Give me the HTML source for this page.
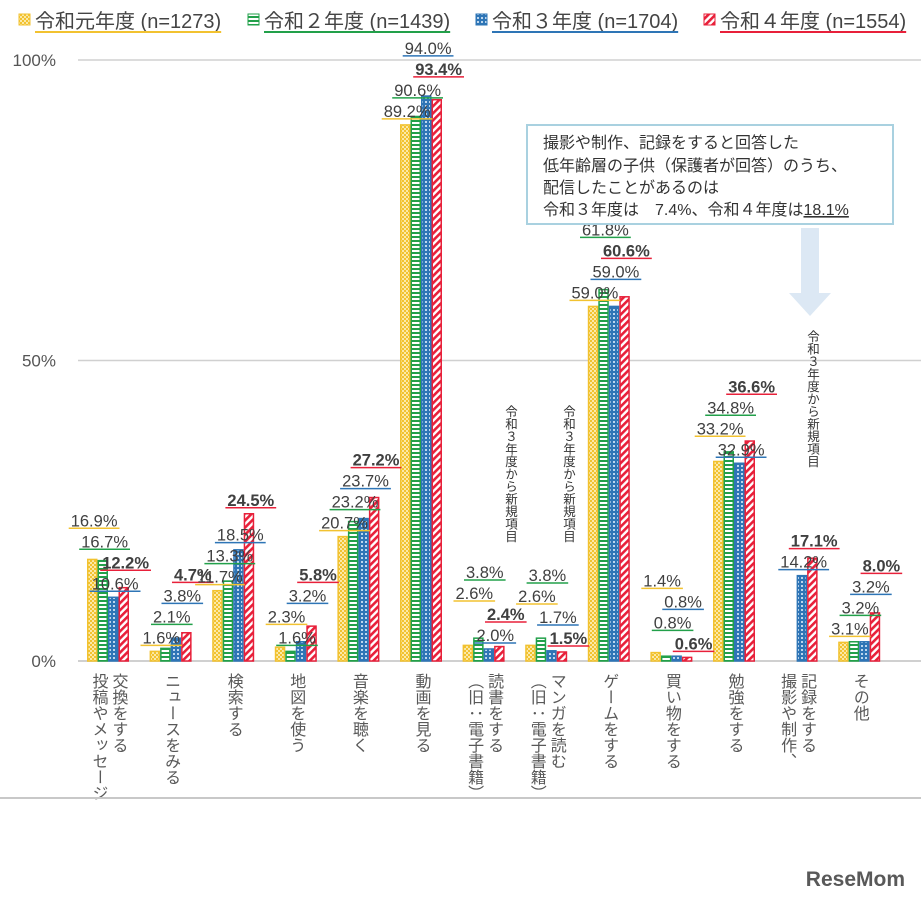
<!DOCTYPE html>
<html><head><meta charset="utf-8"><style>
body{margin:0;background:#fff;width:921px;height:900px;overflow:hidden;font-family:"Liberation Sans","Noto Sans CJK JP",sans-serif;}
svg{display:block}
</style></head><body>
<svg id="chart" width="921" height="900" xmlns="http://www.w3.org/2000/svg" font-family="Liberation Sans, Noto Sans CJK JP, sans-serif">
<defs>
<pattern id="pY" width="4" height="4" patternUnits="userSpaceOnUse"><rect width="4" height="4" fill="#f2c230"/><rect x="0" y="0" width="2" height="2" fill="#fbe9a8"/><rect x="2" y="2" width="2" height="2" fill="#fbe9a8"/></pattern>
<pattern id="pG" width="4" height="4" patternUnits="userSpaceOnUse"><rect width="4" height="4" fill="#fff"/><rect y="0" width="4" height="2" fill="#22a04a"/></pattern>
<pattern id="pB" width="4" height="4" patternUnits="userSpaceOnUse"><rect width="4" height="4" fill="#2e75b6"/><rect x="1" y="1" width="2" height="2" fill="#bcd6ee"/></pattern>
<pattern id="pR" width="5" height="5" patternUnits="userSpaceOnUse" patternTransform="rotate(45)"><rect width="5" height="5" fill="#fff"/><rect width="2.6" height="5" fill="#e8203a"/></pattern>
</defs>
<g id="legend"></g>
<g id="grid"></g>
<g id="bars"></g>
<g id="labels"></g>
<g id="xlabels"></g>
<g>
<rect x="527" y="125" width="366" height="99" fill="#fff" stroke="#a9d1e0" stroke-width="2"/>
<text x="543" y="148" font-size="16" fill="#333">撮影や制作、記録をすると回答した</text>
<text x="543" y="171" font-size="16" fill="#333">低年齢層の子供（保護者が回答）のうち、</text>
<text x="543" y="193" font-size="16" fill="#333">配信したことがあるのは</text>
<text x="543" y="215" font-size="16" fill="#333">令和３年度は　7.4%、令和４年度は<tspan text-decoration="underline">18.1%</tspan></text>
</g>
<path d="M801 228 H819 V293 H831 L810 316 L789 293 H801 Z" fill="#dce8f4"/>
<line x1="0" y1="798" x2="921" y2="798" stroke="#c8c8c8" stroke-width="2"/>
<text x="905" y="886" text-anchor="end" font-size="21" font-weight="bold" fill="#595959">ReseMom</text>
</svg>
<script>
const categories=["投稿やメッセージ交換をする","ニュースをみる","検索する","地図を使う","音楽を聴く","動画を見る","読書をする","マンガを読む","ゲームをする","買い物をする","勉強をする","撮影や制作、記録をする","その他"];
const r1=[16.9,1.6,11.7,2.3,20.7,89.2,2.6,2.6,59.0,1.4,33.2,null,3.1];
const r2=[16.7,2.1,13.3,1.6,23.2,90.6,3.8,3.8,61.8,0.8,34.8,null,3.2];
const r3=[10.6,3.8,18.5,3.2,23.7,94.0,2.0,1.7,59.0,0.8,32.9,14.2,3.2];
const r4=[12.2,4.7,24.5,5.8,27.2,93.4,2.4,1.5,60.6,0.6,36.6,17.1,8.0];
const seriesNames=["令和元年度 (n=1273)","令和２年度 (n=1439)","令和３年度 (n=1704)","令和４年度 (n=1554)"];
const yTicks=[0,50,100];
const xCols=[["投稿やメッセージ","交換をする"],["ニュースをみる"],["検索する"],["地図を使う"],["音楽を聴く"],["動画を見る"],["（旧：電子書籍）","読書をする"],["（旧：電子書籍）","マンガを読む"],["ゲームをする"],["買い物をする"],["勉強をする"],["撮影や制作、","記録をする"],["その他"]];

const NS="http://www.w3.org/2000/svg";
const series=[r1,r2,r3,r4];
const fills=["url(#pY)","url(#pG)","url(#pB)","url(#pR)"];
const strokes=["#f2c230","#22a04a","#2e75b6","#e8203a"];
const y=v=>661-v*6.01;
const gx=i=>108+i*62.6;
const BW=10.5;
const bx=(i,s)=>gx(i)-21+s*BW;
function mk(tag,attrs,parent){const e=document.createElementNS(NS,tag);for(const k in attrs)e.setAttribute(k,attrs[k]);parent.appendChild(e);return e;}

const lg=document.getElementById('legend');
const lx=[19,248,476,704];
seriesNames.forEach((n,s)=>{
  const sq=mk('rect',{x:lx[s],y:14,width:11,height:11,fill:fills[s],stroke:strokes[s]},lg);
  
  
  const t=mk('text',{x:lx[s]+16,y:28,'font-size':20,fill:'#444'},lg);
  t.textContent=n;
  
  
  const w=t.getComputedTextLength();
  mk('line',{x1:lx[s]+16,x2:lx[s]+16+w,y1:32,y2:32,stroke:strokes[s],'stroke-width':2},lg);
});

const gd=document.getElementById('grid');
yTicks.forEach(v=>{
  const l=mk('line',{x1:78,x2:921,y1:y(v),y2:y(v),stroke:'#d0d0d0','stroke-width':v===0?2:1.5},gd);
  
  
  const t=mk('text',{x:56,y:y(v)+6,'text-anchor':'end','font-size':17,fill:'#555'},gd);
  t.textContent=v+'%';
  
  
});

const bg=document.getElementById('bars'), lb=document.getElementById('labels');
categories.forEach((c,i)=>{
  const order=[];
  series.forEach((arr,s)=>{
    const v=arr[i]; if(v==null)return;
    const r=mk('rect',{x:bx(i,s)+0.75,y:y(v),width:BW-1.5,height:661-y(v),fill:fills[s],stroke:strokes[s],'stroke-width':1.5},bg);
    
    
    order.push({s,v});
  });
  order.sort((a,b)=>a.v-b.v);
  let prev=1e9;
  order.forEach(o=>{
    const u=Math.min(y(o.v)-6,prev-21); prev=u;
    const xe=bx(i,o.s)+BW+20;
    const t=mk('text',{x:xe,y:u-2,'text-anchor':'end','font-size':16.5,fill:'#404040','font-weight':o.s===3?'bold':'normal'},lb);
    t.textContent=o.v.toFixed(1)+'%';
    
    
    const w=t.getComputedTextLength();
    mk('line',{x1:xe-w-2,x2:xe+2,y1:u,y2:u,stroke:strokes[o.s],'stroke-width':1.5},lb);
  });
});

const xl=document.getElementById('xlabels');
xCols.forEach((cols,i)=>{
  const n=cols.length;
  cols.forEach((col,k)=>{
    const cx=gx(i)+(k-(n-1)/2)*20;
    const t=mk('text',{x:cx,y:673,'font-size':16,fill:'#595959',style:'writing-mode:vertical-rl;text-orientation:upright;'},xl);
    t.textContent=col;
    
    
  });
});
[[510,405],[568,405],[812,330]].forEach((p,k)=>{
  const t=mk('text',{x:p[0],y:p[1],'font-size':12.5,fill:'#333',style:'writing-mode:vertical-rl;text-orientation:upright;'},xl);
  t.textContent='令和３年度から新規項目';
  
  
});
</script>
</body></html>
